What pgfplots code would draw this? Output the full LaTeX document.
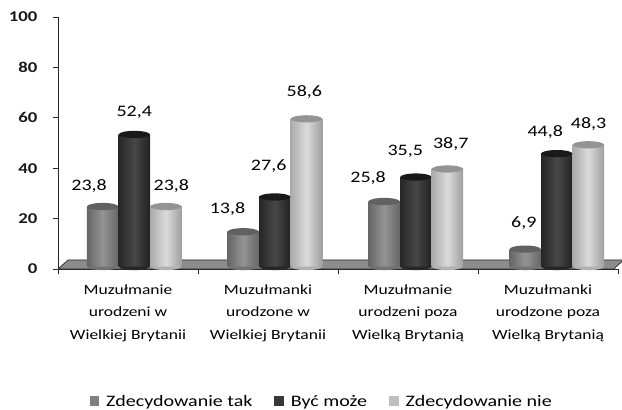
\documentclass[border=0pt]{standalone}
\usepackage{fontspec}
\setmainfont{Carlito}
\newfontfamily\widefont[FakeStretch=1.25]{Carlito}
\usepackage{pgfplots}
\usepackage{pgfplotstable}
\pgfplotsset{compat=1.18}
\colorlet{cone}{black!50}
\colorlet{ctwo}{black!78}
\colorlet{cthree}{black!25}
\pgfdeclareplotmark{cyl}{\pgfpathellipse{\pgfqpoint{0pt}{0pt}}{\pgfqpoint{15.6pt}{0pt}}{\pgfqpoint{0pt}{3.6pt}}\pgfusepathqfill}
\pgfdeclareplotmark{cylbase}{\pgfpathmoveto{\pgfqpoint{-15.6pt}{0pt}}\pgfpatharc{180}{360}{15.6pt and 3.6pt}\pgfpathclose\pgfusepathqfill}
\pgfplotstableread{
x y
0.319 23.8
1.323 13.8
2.330 25.8
3.337 6.9
}\first
\pgfplotstableread{
x y
0.545 52.4
1.549 27.6
2.556 35.5
3.563 44.8
}\second
\pgfplotstableread{
x y
0.771 23.8
1.775 58.6
2.782 38.7
3.789 48.3
}\third
\pgfplotstableread{
x y t
0.222 32.9 {23,8}
0.545 62.2 {52,4}
0.810 32.9 {23,8}
1.211 23.8 {13,8}
1.505 40.8 {27,6}
1.760 70.4 {58,6}
2.215 36.1 {25,8}
2.480 46.8 {35,5}
2.805 49.6 {38,7}
3.327 18.2 {6,9}
3.480 54.2 {44,8}
3.790 57.6 {48,3}
}\labels
\pgfplotsset{
 cylone/.style={forget plot, draw=none, yshift=2.5pt, left color=black!60,right color=black!60,middle color=black!42},
 cyltwo/.style={forget plot, draw=none, yshift=2.5pt, left color=black!85,right color=black!87,middle color=black!72},
 cylthree/.style={forget plot, draw=none, yshift=2.5pt, left color=black!33,right color=black!38,middle color=black!14},
}
\begin{document}
\begin{tikzpicture}[x=1pt,y=1pt]
\useasboundingbox (0,0) rectangle (622,410);
\begin{axis}[
  at={(58pt,141pt)}, anchor=origin, scale only axis,
  width=560pt, height=252pt,
  xmin=0, xmax=4, ymin=0, ymax=100,
  axis lines=left, axis line style={black!85, line width=0.9pt, -},
  clip=false,
  xtick={0,1,2,3,4}, xticklabels={},
  ytick={0,20,...,100},
  tick style={black!85, line width=0.8pt},
  major tick length=5pt,
  tick align=outside, tick pos=lower,
  y tick label style={font=\widefont\fontsize{15}{16}\selectfont\bfseries, black!90, xshift=-12pt},
  /pgf/number format/assume math mode=true,
  extra x ticks={0.5,1.5,2.5,3.5},
  extra x tick labels={Muzułmanie\\urodzeni w\\Wielkiej Brytanii,Muzułmanki\\urodzone w\\Wielkiej Brytanii,Muzułmanie\\urodzeni poza\\Wielką Brytanią,Muzułmanki\\urodzone poza\\Wielką Brytanią},
  extra x tick style={major tick length=0pt, tick label style={font=\widefont\fontsize{14}{22.5}\selectfont, align=center, anchor=north, yshift=-12pt, black}},
  ybar, bar width=31.5pt, bar shift=0pt,
  legend columns=3,
  legend style={at={(0.471,-0.528)}, anchor=center, draw=none, fill=none, font=\widefont\fontsize{16}{17}\selectfont, /tikz/every even column/.style={column sep=20pt}, /tikz/every odd column/.style={column sep=5pt}},
  legend image code/.code={\fill[#1] (0pt,-3.5pt) rectangle (9.5pt,6pt);},
]
\addlegendimage{fill=cone,draw=none}
\addlegendentry{Zdecydowanie tak}
\addlegendimage{fill=ctwo,draw=none}
\addlegendentry{Być może}
\addlegendimage{fill=cthree,draw=none}
\addlegendentry{Zdecydowanie nie}
% floor
\addplot[forget plot, fill=black!45, draw=black!85, line width=0.7pt, sharp plot] coordinates {(0,0) (0.072,3.6) (4.04,3.6) (3.97,0) (0,0)};
% one plot per column, or the shading runs over the whole series
\addplot[forget plot, only marks, mark=cylbase, mark options={black!55, yshift=2.5pt}] table[x=x,y expr=0] {\first};
\addplot[cylone] coordinates {(0.319,23.8)};
\addplot[cylone] coordinates {(1.323,13.8)};
\addplot[cylone] coordinates {(2.330,25.8)};
\addplot[cylone] coordinates {(3.337,6.9)};
\addplot[forget plot, only marks, mark=cyl, mark options={black!62, yshift=2.5pt}] table[x=x,y=y] {\first};
\addplot[forget plot, only marks, mark=cylbase, mark options={black!85, yshift=2.5pt}] table[x=x,y expr=0] {\second};
\addplot[cyltwo] coordinates {(0.545,52.4)};
\addplot[cyltwo] coordinates {(1.549,27.6)};
\addplot[cyltwo] coordinates {(2.556,35.5)};
\addplot[cyltwo] coordinates {(3.563,44.8)};
\addplot[forget plot, only marks, mark=cyl, mark options={black!90, yshift=2.5pt}] table[x=x,y=y] {\second};
\addplot[forget plot, only marks, mark=cylbase, mark options={black!30, yshift=2.5pt}] table[x=x,y expr=0] {\third};
\addplot[cylthree] coordinates {(0.771,23.8)};
\addplot[cylthree] coordinates {(1.775,58.6)};
\addplot[cylthree] coordinates {(2.782,38.7)};
\addplot[cylthree] coordinates {(3.789,48.3)};
\addplot[forget plot, only marks, mark=cyl, mark options={black!42, yshift=2.5pt}] table[x=x,y=y] {\third};
% value labels
\addplot[forget plot, only marks, mark=none, point meta=explicit symbolic,
  nodes near coords, nodes near coords style={anchor=center, font=\widefont\fontsize{16}{17}\selectfont, black, inner sep=0pt}]
  table[x=x,y=y,meta=t] {\labels};
\end{axis}
\end{tikzpicture}
\end{document}
